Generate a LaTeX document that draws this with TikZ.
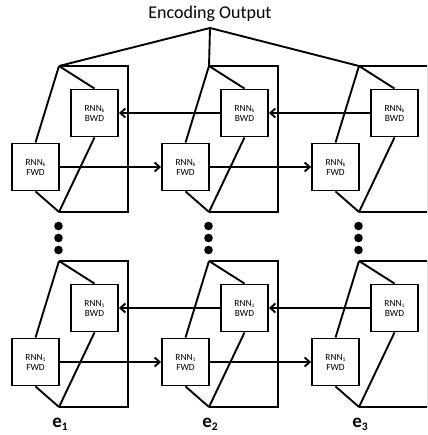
\documentclass[tikz,border=0pt]{standalone}
\usepackage{fontspec}
\setmainfont{Carlito}
\usetikzlibrary{arrows.meta}
\newcommand{\mysub}[1]{\raisebox{-0.35ex}{\fontsize{5.5}{5.5}\selectfont #1}}
\begin{document}
\begin{tikzpicture}[x=1pt,y=-1pt, line width=1.9pt,
  box/.style={draw, fill=white, minimum width=47pt, minimum height=47pt, inner sep=0pt, align=center, font=\fontsize{9.4}{10}\selectfont},
  flow/.style={-{Straight Barb[length=5pt,width=9pt]}},
  dotmark/.style={circle, fill=black, draw=none, inner sep=0pt, minimum size=8.6pt},
  title/.style={font=\fontsize{18}{20}\selectfont},
  elabel/.style={font=\fontsize{19}{20}\selectfont\bfseries}]
\useasboundingbox (0,0) rectangle (427,435);
\clip (0,0) rectangle (427,435);
\node[title] (out) at (210,14) {Encoding Output};
\coordinate (apex) at (210,28);
\foreach \r/\s in {0/k,1/1} {
  \foreach \c in {1,2,3} {
    \pgfmathsetmacro\dx{150*(\c-1)}
    \pgfmathsetmacro\dy{195*\r}
    \coordinate (t\r\c) at (59+\dx, 66+\dy);
    \coordinate (u\r\c) at (59+\dx, 212+\dy);
    \node[box] (f\r\c) at (35.5+\dx, 167+\dy) {RNN\mysub{\s}\\FWD};
    \node[box] (b\r\c) at (94.5+\dx, 113+\dy) {RNN\mysub{\s}\\BWD};
    \draw (t\r\c) -- (f\r\c.north) (t\r\c) -- (b\r\c.north)
          (u\r\c) -- (f\r\c.south) (u\r\c) -- (b\r\c.south);
    \draw (t\r\c) -- ++(69,0) |- (u\r\c);
  }
  \draw[flow] (f\r1) -- (f\r2);
  \draw[flow] (f\r2) -- (f\r3);
  \draw[flow] (b\r3) -- (b\r2);
  \draw[flow] (b\r2) -- (b\r1);
}
\draw (apex) -- (t01) (apex) -- (t02) (apex) -- (t03);
\foreach \c in {1,2,3} {
  \pgfmathsetmacro\dx{150*(\c-1)}
  \node[dotmark] (d1\c) at (58.5+\dx, 226) {};
  \node[dotmark] (d2\c) at (58.5+\dx, 238) {};
  \node[dotmark] (d3\c) at (58.5+\dx, 250) {};
  \node[elabel] (e\c) at (60+\dx, 424) {e\raisebox{-0.3ex}{\fontsize{11.5}{11.5}\selectfont\bfseries\c}};
}
\end{tikzpicture}
\end{document}
